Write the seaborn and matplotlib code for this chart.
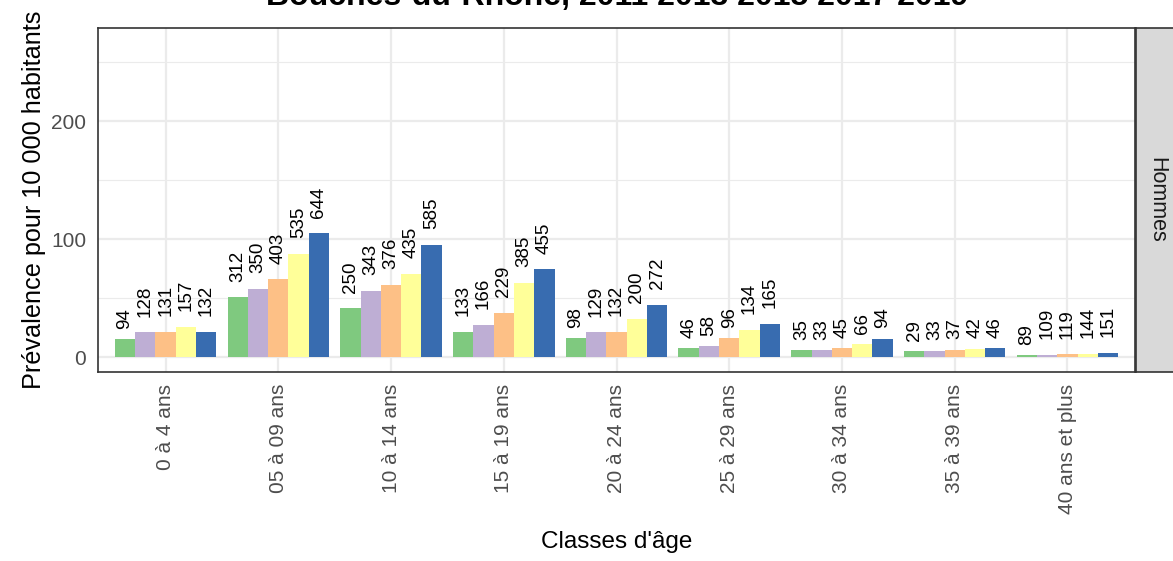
import matplotlib
matplotlib.use("Agg")
import matplotlib.pyplot as plt
import seaborn as sns
import pandas as pd

classes = ["0 à 4 ans", "05 à 09 ans", "10 à 14 ans", "15 à 19 ans", "20 à 24 ans",
           "25 à 29 ans", "30 à 34 ans", "35 à 39 ans", "40 ans et plus"]
annees = ["2011", "2013", "2015", "2017", "2019"]

prev_2011 = [15.3, 50.6, 41.2, 21.5, 16.1, 7.3, 5.6, 5.1, 1.7]
prev_2013 = [20.8, 57.6, 56.2, 27.1, 20.9, 9.3, 5.6, 5.4, 2.0]
prev_2015 = [21.4, 65.8, 61.3, 37.3, 21.2, 16.1, 7.6, 6.2, 2.3]
prev_2017 = [25.4, 87.5, 70.6, 62.7, 32.5, 22.9, 11.0, 7.0, 2.5]
prev_2019 = [21.2, 105.0, 95.4, 74.3, 44.3, 28.0, 15.5, 7.6, 3.4]

n_2011 = [94, 312, 250, 133, 98, 46, 35, 29, 89]
n_2013 = [128, 350, 343, 166, 129, 58, 33, 33, 109]
n_2015 = [131, 403, 376, 229, 132, 96, 45, 37, 119]
n_2017 = [157, 535, 435, 385, 200, 134, 66, 42, 144]
n_2019 = [132, 644, 585, 455, 272, 165, 94, 46, 151]

couleurs = ["#7FC97F", "#BEAED4", "#FDC086", "#FFFF99", "#386CB0"]

prevs = [prev_2011, prev_2013, prev_2015, prev_2017, prev_2019]
ns = [n_2011, n_2013, n_2015, n_2017, n_2019]
rows = []
for a, p, n in zip(annees, prevs, ns):
    for c, pv, nv in zip(classes, p, n):
        rows.append({"classe": c, "annee": a, "prev": pv, "n": nv})
df = pd.DataFrame(rows)

sns.set_theme(style="white")
plt.rcParams["font.family"] = ["Liberation Sans", "DejaVu Sans"]

W, H = 1173, 561
fig = plt.figure(figsize=(W / 100, H / 100), dpi=100)
L, R, T, B = 98, 1135, 28, 372
ax = fig.add_axes([L / W, 1 - B / H, (R - L) / W, (B - T) / H])

sns.barplot(data=df, x="classe", y="prev", hue="annee", order=classes,
            hue_order=annees, palette=couleurs, width=0.9, saturation=1,
            errorbar=None, legend=False, linewidth=0, ax=ax, zorder=3)

fs_lab = 13.5
for cont, a in zip(ax.containers, annees):
    sub = df[df["annee"] == a].set_index("classe").loc[classes]
    for bar, nv in zip(cont.patches, sub["n"]):
        s = str(nv)
        x = bar.get_x() + bar.get_width() / 2
        y = bar.get_height()
        ax.annotate(s, (x, y), xytext=(0, 0.5 * len(s) * 0.556 * fs_lab),
                    textcoords="offset points", rotation=90, ha="center",
                    va="bottom", fontsize=fs_lab, color="black", zorder=4)

ax.set_xlim(-0.6, 8.6)
ax.set_ylim(-12.7, 279)
ax.set_yticks([0, 100, 200])
ax.set_yticks([50, 150, 250], minor=True)
ax.grid(True, which="major", color="#EBEBEB", lw=1.6, zorder=0)
ax.grid(True, which="minor", axis="y", color="#EBEBEB", lw=0.8, zorder=0)
ax.set_axisbelow(True)
for sp in ax.spines.values():
    sp.set_color("#333333")
    sp.set_linewidth(1.2)
ax.tick_params(axis="both", which="major", length=5.5, width=1.1, color="#333333",
               labelsize=15, labelcolor="#4D4D4D", pad=3)
ax.tick_params(axis="both", which="minor", length=0)
plt.setp(ax.get_xticklabels(), rotation=90, ha="center", va="top")
ax.set_xlabel("Classes d'âge", fontsize=17.5, color="black", labelpad=12)
ax.set_ylabel("Prévalence pour 10 000 habitants", fontsize=18.2, color="black", labelpad=4)

# strip
sax = fig.add_axes([(R + 1) / W, 1 - B / H, (W - R + 2) / W, (B - T) / H])
sax.set_facecolor("#D9D9D9")
sax.set_xticks([])
sax.set_yticks([])
for sp in sax.spines.values():
    sp.set_color("#333333")
    sp.set_linewidth(1.2)
sax.text(20 / 39, 0.5, "Hommes", rotation=270, ha="center", va="center",
         fontsize=15.5, color="#1A1A1A", transform=sax.transAxes)

fig.text(617 / W, 1 - 5.5 / H, "Bouches-du-Rhône, 2011 2013 2015 2017 2019",
         ha="center", va="baseline", fontsize=23, fontweight="bold", color="black")

fig.savefig("out.png", dpi=100, facecolor="white")
